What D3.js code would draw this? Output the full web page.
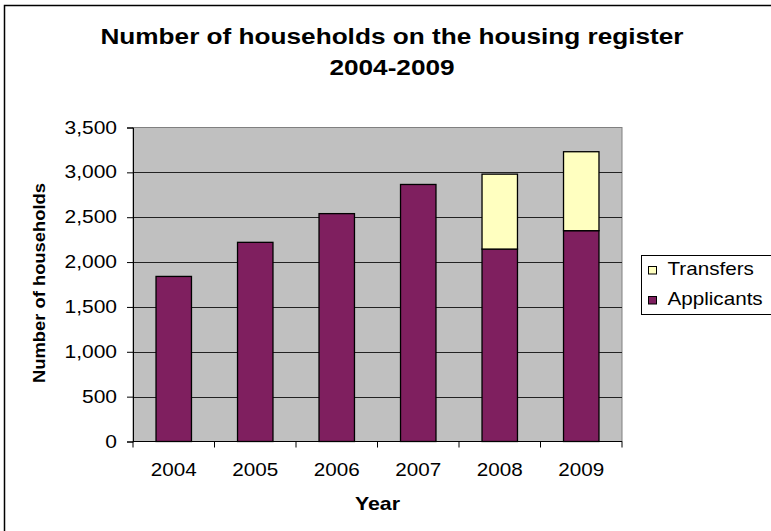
<!DOCTYPE html>
<html>
<head>
<meta charset="utf-8">
<script src="https://cdn.jsdelivr.net/npm/d3@7"></script>
<style>
  body { margin: 0; background: #fff; }
  text { font-family: "Liberation Sans", Arial, sans-serif; }
</style>
</head>
<body>
<div id="chart"></div>
<script>
// data
const years = ['2004', '2005', '2006', '2007', '2008', '2009'];
const applicants = [1840, 2220, 2540, 2865, 2145, 2350];
const transfers = [0, 0, 0, 0, 835, 880];
const seriesNames = ['Applicants', 'Transfers'];
const yTicks = [0, 500, 1000, 1500, 2000, 2500, 3000, 3500];

const colors = { Applicants: '#7f1f5f', Transfers: '#ffffc0' };

const W = 771, H = 531;
const plot = { left: 133, right: 622, top: 127.5, bottom: 441.5 };

// the original text is drawn a bit wider than plain Arial
function widen(sel, sx) {
    sel.each(function() {
        const t = d3.select(this);
        const x0 = +t.attr('x') || 0;
        t.attr('transform', `translate(${x0 * (1 - sx)},0) scale(${sx},1)`);
    });
}

const svg = d3.select('#chart').append('svg')
    .attr('width', W)
    .attr('height', H);

// outer chart frame (runs off the right and bottom edges)
svg.append('rect')
    .attr('x', 4.5).attr('y', 5.5)
    .attr('width', W + 20).attr('height', H + 20)
    .attr('fill', '#fff')
    .attr('stroke', '#000')
    .attr('stroke-width', 1.5);

// title
svg.append('g').selectAll('text')
    .data(['Number of households on the housing register', '2004-2009'])
    .join('text')
    .attr('x', 392)
    .attr('y', (d, i) => 44 + i * 31)
    .attr('text-anchor', 'middle')
    .attr('font-size', '22px')
    .attr('font-weight', 'bold')
    .text(d => d)
    .call(widen, 1.19);

// scales
const x = d3.scaleBand()
    .domain(years)
    .range([plot.left, plot.right])
    .paddingInner(0.565)
    .paddingOuter(0.2825);
const y = d3.scaleLinear()
    .domain([0, 3500])
    .range([plot.bottom, plot.top]);

// plot area
svg.append('rect')
    .attr('x', plot.left).attr('y', plot.top)
    .attr('width', plot.right - plot.left)
    .attr('height', plot.bottom - plot.top)
    .attr('fill', '#c0c0c0')
    .attr('stroke', '#808080')
    .attr('stroke-width', 1);

// gridlines
svg.append('g')
    .selectAll('line')
    .data(yTicks.filter(d => d > 0 && d < 3500))
    .join('line')
    .attr('x1', plot.left).attr('x2', plot.right)
    .attr('y1', d => Math.round(y(d)) + 0.5)
    .attr('y2', d => Math.round(y(d)) + 0.5)
    .attr('stroke', '#222')
    .attr('stroke-width', 1);

// stacked bars
const table = years.map((yr, i) => ({ year: yr, Applicants: applicants[i], Transfers: transfers[i] }));
const stacked = d3.stack().keys(seriesNames)(table);

svg.append('g')
    .selectAll('g')
    .data(stacked)
    .join('g')
    .attr('fill', d => colors[d.key])
    .selectAll('rect')
    .data(d => d.filter(s => s[1] > s[0]))
    .join('rect')
    .attr('x', d => x(d.data.year))
    .attr('y', d => y(d[1]))
    .attr('width', x.bandwidth())
    .attr('height', d => y(d[0]) - y(d[1]))
    .attr('stroke', '#000')
    .attr('stroke-width', 1.3);

// y axis
const yAxis = d3.axisLeft(y)
    .tickValues(yTicks)
    .tickFormat(d3.format(','))
    .tickSize(6)
    .tickPadding(10);
const yAxisG = svg.append('g')
    .attr('transform', `translate(${plot.left},0)`)
    .call(yAxis);
yAxisG.select('.domain').attr('stroke', '#000');
yAxisG.selectAll('text')
    .attr('font-size', '17.5px')
    .attr('font-family', '"Liberation Sans", Arial, sans-serif')
    .attr('fill', '#000')
    .call(widen, 1.2);

// x axis with ticks between categories
const xAxisG = svg.append('g')
    .attr('transform', `translate(0,${plot.bottom})`);
xAxisG.append('line')
    .attr('x1', plot.left).attr('x2', plot.right)
    .attr('stroke', '#000');
const step = x.step();
xAxisG.selectAll('.xtick')
    .data(d3.range(years.length + 1))
    .join('line')
    .attr('class', 'xtick')
    .attr('x1', i => plot.left + i * step)
    .attr('x2', i => plot.left + i * step)
    .attr('y1', 0).attr('y2', 6)
    .attr('stroke', '#000');
xAxisG.selectAll('.xlabel')
    .data(years)
    .join('text')
    .attr('class', 'xlabel')
    .attr('x', d => x(d) + x.bandwidth() / 2)
    .attr('y', 35)
    .attr('text-anchor', 'middle')
    .attr('font-size', '17.5px')
    .text(d => d)
    .call(widen, 1.18);

// axis titles
svg.append('text')
    .attr('x', (plot.left + plot.right) / 2)
    .attr('y', 510)
    .attr('text-anchor', 'middle')
    .attr('font-size', '17.5px')
    .attr('font-weight', 'bold')
    .text('Year')
    .call(widen, 1.22);

svg.append('text')
    .attr('transform', 'translate(45,283) rotate(-90) scale(1.08,1)')
    .attr('text-anchor', 'middle')
    .attr('font-size', '17px')
    .attr('font-weight', 'bold')
    .text('Number of households');

// legend
const legend = svg.append('g').attr('transform', 'translate(641,255)');
legend.append('rect')
    .attr('x', 0.5).attr('y', 0.5)
    .attr('width', 160).attr('height', 59)
    .attr('fill', '#fff')
    .attr('stroke', '#000')
    .attr('stroke-width', 1);
const legendItems = ['Transfers', 'Applicants'];
const li = legend.selectAll('.item')
    .data(legendItems)
    .join('g')
    .attr('class', 'item')
    .attr('transform', (d, i) => `translate(7.5,${11.5 + i * 30})`);
li.append('rect')
    .attr('width', 8).attr('height', 7.5)
    .attr('fill', d => colors[d])
    .attr('stroke', '#000')
    .attr('stroke-width', 1);
li.append('text')
    .attr('x', 19)
    .attr('y', 8.5)
    .attr('font-size', '17.5px')
    .text(d => d)
    .call(widen, 1.18);
</script>
</body>
</html>
